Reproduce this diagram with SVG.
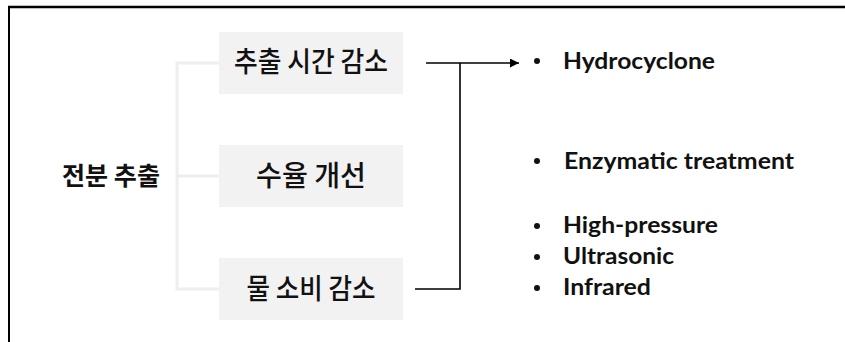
<svg xmlns="http://www.w3.org/2000/svg" width="845" height="342" viewBox="0 0 845 342">
<defs>
<style>
.box{fill:#f2f2f2}
.kt{font-family:"Noto Sans CJK KR","Noto Sans",sans-serif;font-size:28px;font-weight:500;fill:#111;text-anchor:middle}
.title{font-family:"Noto Sans CJK KR","Noto Sans",sans-serif;font-size:25px;font-weight:700;fill:#111;text-anchor:middle}
.lt{font-family:Lato,"Noto Sans",sans-serif;font-size:23px;font-weight:700;fill:#111}
.gray{fill:none;stroke:#eeeeee;stroke-width:3}
.blk{fill:none;stroke:#000;stroke-width:1.6}
.frame{fill:none;stroke:#000}
.dot{fill:#111}
</style>
<marker id="arr" viewBox="0 0 10 10" refX="10" refY="5" markerWidth="10" markerHeight="9" markerUnits="userSpaceOnUse" orient="auto">
<path d="M0,0 L10,5 L0,10 z" fill="#000"/>
</marker>
</defs>
<rect width="845" height="342" fill="#fff"/>
<g id="frame">
<line class="frame" x1="8" y1="7" x2="845" y2="7" stroke-width="2.5"/>
<line class="frame" x1="9" y1="6" x2="9" y2="342" stroke-width="2"/>
</g>
<g id="connectors">
<path class="gray" d="M219,63 H177 V289 H219 M177,176 H219"/>
<path class="blk" d="M426,63 H519" marker-end="url(#arr)"/>
<path class="blk" d="M460,63 V289 H415"/>
</g>
<g id="root">
<text class="title" x="111" y="185" textLength="98" lengthAdjust="spacingAndGlyphs">전분 추출</text>
</g>
<g id="node1">
<rect class="box" x="219" y="32" width="184" height="62"/>
<text class="kt" x="311" y="72" textLength="154" lengthAdjust="spacingAndGlyphs">추출 시간 감소</text>
</g>
<g id="node2">
<rect class="box" x="219" y="145" width="184" height="62"/>
<text class="kt" x="311" y="186" textLength="110" lengthAdjust="spacingAndGlyphs">수율 개선</text>
</g>
<g id="node3">
<rect class="box" x="219" y="258" width="184" height="62"/>
<text class="kt" x="311" y="299" textLength="129" lengthAdjust="spacingAndGlyphs">물 소비 감소</text>
</g>
<g id="list1">
<circle class="dot" cx="537" cy="61" r="3"/>
<text class="lt" x="563" y="68.5" textLength="152" lengthAdjust="spacingAndGlyphs">Hydrocyclone</text>
</g>
<g id="list2">
<circle class="dot" cx="537" cy="161" r="3"/>
<text class="lt" x="564" y="168.5" textLength="230" lengthAdjust="spacingAndGlyphs">Enzymatic treatment</text>
<circle class="dot" cx="537" cy="226" r="3"/>
<text class="lt" x="563" y="233" textLength="155" lengthAdjust="spacingAndGlyphs">High-pressure</text>
<circle class="dot" cx="537" cy="257" r="3"/>
<text class="lt" x="563" y="264" textLength="111" lengthAdjust="spacingAndGlyphs">Ultrasonic</text>
<circle class="dot" cx="537" cy="288" r="3"/>
<text class="lt" x="563" y="295" textLength="88" lengthAdjust="spacingAndGlyphs">Infrared</text>
</g>
</svg>
